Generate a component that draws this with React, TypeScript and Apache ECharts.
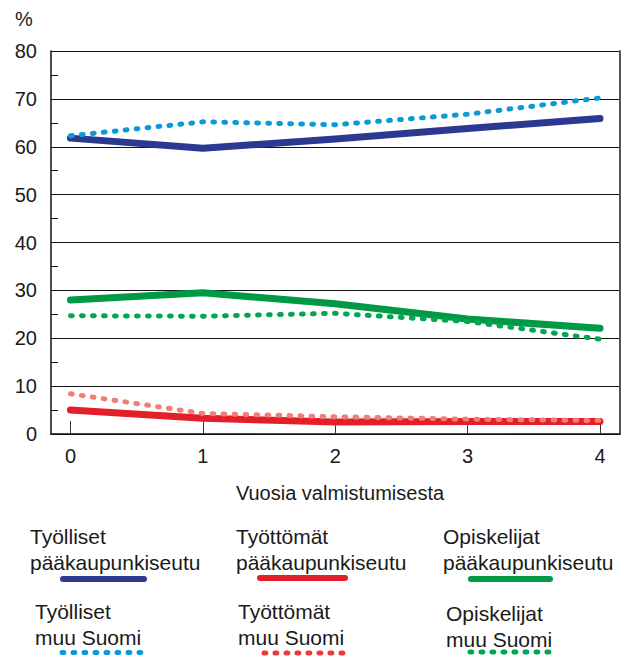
import React, { useEffect, useRef } from "react";
import * as echarts from "echarts";

const years = [0, 1, 2, 3, 4];
const yTickLabels = [0, 10, 20, 30, 40, 50, 60, 70, 80];
const tyollisetPk = [61.8, 59.7, 61.6, 63.8, 65.9];
const tyollisetMuu = [62.3, 65.2, 64.6, 66.8, 70.2];
const tyottomatPk = [5.0, 3.3, 2.5, 2.6, 2.6];
const tyottomatMuu = [8.4, 4.3, 3.6, 3.1, 2.8];
const opiskelijatPk = [28.0, 29.5, 27.2, 24.0, 22.1];
const opiskelijatMuu = [24.7, 24.6, 25.2, 23.5, 19.8];

const xAxisName = "Vuosia valmistumisesta";
const unitLabel = "%";

const C_DBLUE = "#2B3990";
const C_LBLUE = "#0A9BD6";
const C_RED = "#E3202A";
const C_SALMON = "#F07E74";
const C_LEG_RED = "#EA3A3A";
const C_GREEN = "#009A47";
const C_LGREEN = "#00A651";

const FONT = "Liberation Sans, Arial, sans-serif";

const legendItems = [
  { text: "Työlliset\npääkaupunkiseutu", x: 30, y: 523, color: C_DBLUE, dotted: false, lx1: 63, lx2: 144, ly: 579 },
  { text: "Työttömät\npääkaupunkiseutu", x: 236, y: 523, color: C_RED, dotted: false, lx1: 260, lx2: 345, ly: 578 },
  { text: "Opiskelijat\npääkaupunkiseutu", x: 443, y: 523, color: C_GREEN, dotted: false, lx1: 471, lx2: 550, ly: 579 },
  { text: "Työlliset\nmuu Suomi", x: 35, y: 598, color: C_LBLUE, dotted: true, lx1: 62, lx2: 145, ly: 652.5 },
  { text: "Työttömät\nmuu Suomi", x: 238, y: 598, color: C_LEG_RED, dotted: true, lx1: 264, lx2: 347, ly: 653 },
  { text: "Opiskelijat\nmuu Suomi", x: 446, y: 600, color: C_LGREEN, dotted: true, lx1: 470, lx2: 553, ly: 652 },
];

function pairs(vals: number[]) {
  return years.map((y, i) => [y, vals[i]]);
}

export default function App() {
  const ref = useRef<HTMLDivElement>(null);
  useEffect(() => {
    if (!ref.current) return;
    const chart = echarts.init(ref.current, null, { renderer: "svg" });

    const solid = (name: string, vals: number[], color: string) => ({
      name,
      type: "line",
      xAxisIndex: 1,
      yAxisIndex: 3,
      data: pairs(vals),
      symbol: "none",
      silent: true,
      lineStyle: { color, width: 7, cap: "round", join: "round" },
      z: 3,
    });
    const dotted = (name: string, vals: number[], color: string) => ({
      name,
      type: "line",
      xAxisIndex: 1,
      yAxisIndex: 3,
      data: pairs(vals),
      symbol: "none",
      silent: true,
      lineStyle: { color, width: 5, type: [1.8, 9.2], cap: "round", join: "round" },
      z: 4,
    });

    const graphics: any[] = [
      {
        type: "text",
        left: 15,
        top: 9,
        style: { text: unitLabel, font: `20px ${FONT}`, fill: "#1a1a1a" },
      },
      {
        type: "text",
        x: 340,
        y: 493,
        style: {
          text: xAxisName,
          font: `20px ${FONT}`,
          fill: "#1a1a1a",
          textAlign: "center",
          textVerticalAlign: "middle",
        },
      },
    ];
    legendItems.forEach((it) => {
      graphics.push({
        type: "text",
        x: it.x,
        y: it.y,
        style: {
          text: it.text,
          font: `21px ${FONT}`,
          lineHeight: 26,
          fill: "#1a1a1a",
          textVerticalAlign: "top",
        },
      });
      graphics.push({
        type: "line",
        shape: { x1: it.lx1, y1: it.ly, x2: it.lx2, y2: it.ly },
        style: it.dotted
          ? { stroke: it.color, lineWidth: 5, lineDash: [1.8, 9.2], lineCap: "round" }
          : { stroke: it.color, lineWidth: 6, lineCap: "round" },
      });
    });

    chart.setOption({
      animation: false,
      backgroundColor: "#ffffff",
      grid: [
        { left: 51, right: 11, top: 51, bottom: 225, containLabel: false },
        { left: 70.5, right: 31, top: 51, bottom: 225, containLabel: false },
      ],
      xAxis: [
        {
          gridIndex: 0,
          type: "value",
          min: 0,
          max: 1,
          axisLine: { show: true, lineStyle: { color: "#111", width: 1.5 } },
          axisTick: { show: false },
          axisLabel: { show: false },
          splitLine: { show: false },
        },
        {
          gridIndex: 1,
          type: "value",
          min: 0,
          max: 4,
          interval: 1,
          axisLine: { show: false },
          axisTick: { show: true, inside: true, length: 13, lineStyle: { color: "#333", width: 1 } },
          axisLabel: {
            show: true,
            margin: 12,
            fontSize: 20,
            fontFamily: FONT,
            color: "#1a1a1a",
            formatter: (v: number) => (years.includes(v) ? String(v) : ""),
          },
          splitLine: { show: false },
        },
      ],
      yAxis: [
        {
          gridIndex: 0,
          type: "value",
          min: 0,
          max: 80,
          interval: 10,
          axisLine: { show: true, lineStyle: { color: "#111", width: 1.5 } },
          axisTick: { show: false },
          axisLabel: {
            margin: 14,
            fontSize: 20,
            fontFamily: FONT,
            color: "#1a1a1a",
            formatter: (v: number) => (yTickLabels.includes(v) ? String(v) : ""),
          },
          splitLine: { show: true, lineStyle: { color: "#111", width: 1 } },
        },
        {
          gridIndex: 0,
          type: "value",
          position: "left",
          min: 0,
          max: 80,
          interval: 5,
          axisLine: { show: false },
          axisTick: { show: true, inside: true, length: 7, lineStyle: { color: "#111", width: 1 } },
          axisLabel: { show: false },
          splitLine: { show: false },
        },
        {
          gridIndex: 0,
          type: "value",
          position: "right",
          min: 0,
          max: 80,
          interval: 10,
          axisLine: { show: true, lineStyle: { color: "#555", width: 2 } },
          axisTick: { show: false },
          axisLabel: { show: false },
          splitLine: { show: false },
        },
        {
          gridIndex: 1,
          type: "value",
          min: 0,
          max: 80,
          show: false,
          splitLine: { show: false },
        },
      ],
      series: [
        solid("Työlliset pääkaupunkiseutu", tyollisetPk, C_DBLUE),
        solid("Työttömät pääkaupunkiseutu", tyottomatPk, C_RED),
        solid("Opiskelijat pääkaupunkiseutu", opiskelijatPk, C_GREEN),
        dotted("Työlliset muu Suomi", tyollisetMuu, C_LBLUE),
        dotted("Työttömät muu Suomi", tyottomatMuu, C_SALMON),
        dotted("Opiskelijat muu Suomi", opiskelijatMuu, C_LGREEN),
      ],
      graphic: graphics,
    });

    return () => chart.dispose();
  }, []);

  return <div ref={ref} style={{ width: 631, height: 659, position: "fixed", left: 0, top: 0 }} />;
}
